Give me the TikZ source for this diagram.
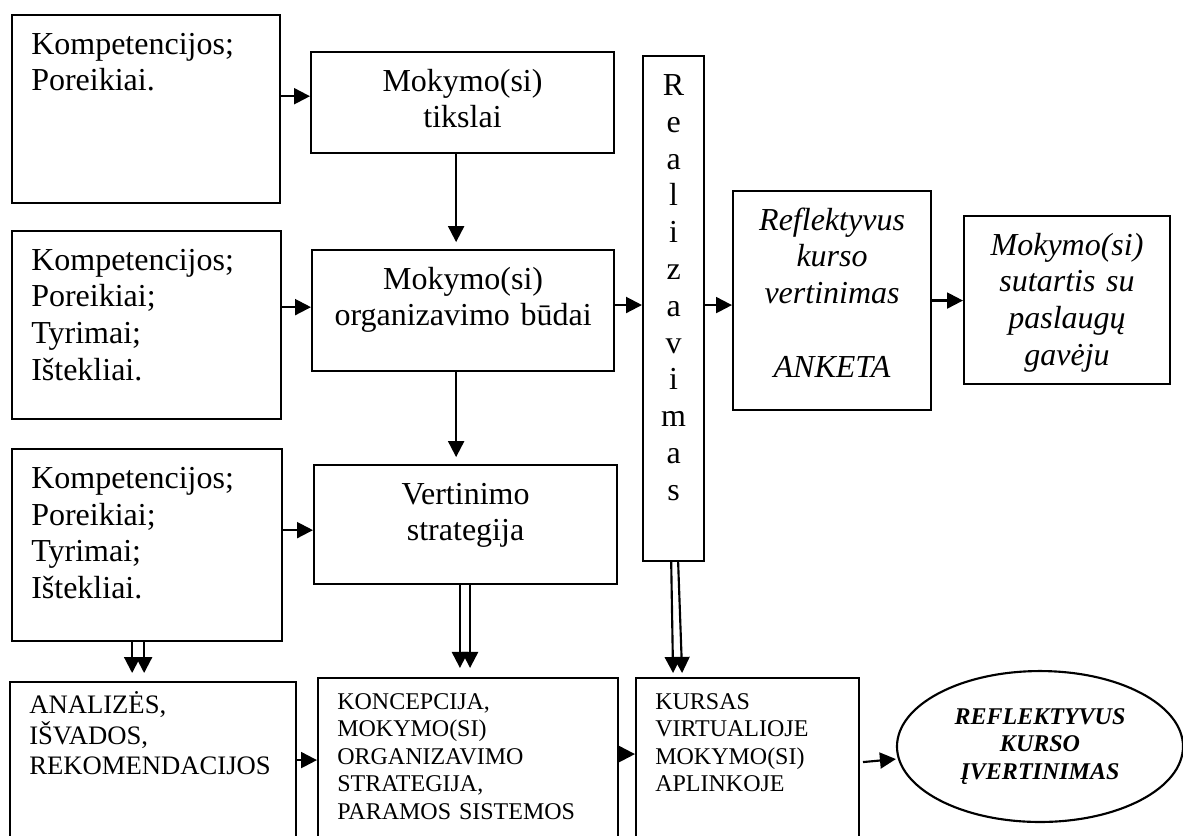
\documentclass[tikz,border=0pt]{standalone}
\usepackage{fontspec}
\setmainfont{Liberation Serif}
\usetikzlibrary{positioning,shapes.geometric,arrows.meta}

\begin{document}
\begin{tikzpicture}[x=0.375pt,y=-0.375pt,>={Triangle[length=6pt,width=6pt]},line width=0.8pt,
	every node/.style={shape=rectangle,draw,inner xsep=7.2pt,inner ysep=0pt},
	box/.style={anchor=north west,text height=14.6pt,font=\fontsize{12}{13.8}\selectfont},
	smallbox/.style={anchor=north west,text height=11.8pt,align=left,font=\fontsize{10}{11.5}\selectfont},
	tinybox/.style={anchor=north west,text height=11.6pt,align=left,font=\fontsize{9}{10.35}\selectfont},]
	\useasboundingbox (0,0) rectangle (1183,835);
	% inputs on the left
	\node (need1) [box,align=left,text width=86.1pt,text depth=55.9pt] at (11,14) {Kompetencijos;\\Poreikiai.};
	\node (need2) [box,align=left,text width=86.5pt,text depth=55.9pt,below=9.75pt of need1.south west,anchor=north west] {Kompetencijos;\\Poreikiai;\\Tyrimai;\\Ištekliai.};
	\node (need3) [box,align=left,text width=86.85pt,text depth=57.4pt,below=10.5pt of need2.south west,anchor=north west] {Kompetencijos;\\Poreikiai;\\Tyrimai;\\Ištekliai.};
	% design steps
	\node (tiksl) [box,align=center,text width=99.2pt,text depth=23.3pt] at (310,51) {Mokymo(si)\\tikslai};
	\node (budai) [box,align=center,text width=98.85pt,text depth=30.8pt] at (311,249) {Mokymo(si)\\organizavimo būdai};
	\node (vert) [box,align=center,text width=99.2pt,text depth=30pt] at (313,464) {Vertinimo\\strategija};
	\node (real) [box,align=center,inner xsep=0pt,text width=22.9pt,text height=14.8pt,text depth=174.6pt] at (642,55) {R\\e\\a\\l\\i\\z\\a\\v\\i\\m\\a\\s};
	\node (refl) [box,align=center,text width=59.85pt,text depth=67.5pt,font=\fontsize{12}{13.8}\selectfont\itshape] at (732,190) {Reflektyvus\\kurso\\vertinimas\\[13.8pt]ANKETA};
	\node (sutart) [box,align=center,text width=62.85pt,text depth=48.4pt,font=\fontsize{12}{13.8}\selectfont\itshape] at (963,215) {Mokymo(si)\\sutartis su\\paslaugų\\gavėju};
	% bottom row
	\node (concl) [smallbox,text width=92.85pt,text depth=55.3pt] at (9,681) {ANALIZĖS,\\IŠVADOS,\\REKOMENDACIJOS};
	\node (koncep) [tinybox,text width=98.1pt,text depth=57pt] at (317,677) {KONCEPCIJA,\\MOKYMO(SI)\\ORGANIZAVIMO\\STRATEGIJA,\\PARAMOS SISTEMOS};
	\node (kursas) [tinybox,text width=69.2pt,text depth=57pt] at (635,677) {KURSAS\\VIRTUALIOJE\\MOKYMO(SI)\\APLINKOJE};
	\node (ivert) [shape=ellipse,inner sep=0pt,minimum width=107.25pt,minimum height=56.6pt,align=center,font=\fontsize{9}{10.35}\selectfont\bfseries\itshape] at (1040,746.5) {REFLEKTYVUS\\KURSO\\ĮVERTINIMAS};

	% connections
	\draw[->] ([yshift=2.4pt]need1.east |- tiksl.west) to ([yshift=2.4pt]tiksl.west);
	\draw[->] ([yshift=1.3pt]need2.east |- budai.west) to ([yshift=1.3pt]budai.west);
	\draw[->] ([yshift=-2.1pt]need3.east |- vert.west) to ([yshift=-2.1pt]vert.west);
	\draw[->] ([xshift=-2.4pt]tiksl.south) to ([xshift=-2.4pt,yshift=2.6pt]tiksl.south |- budai.north);
	\draw[->] ([xshift=-2.6pt]budai.south) to ([xshift=-2.6pt,yshift=2.6pt]budai.south |- vert.north);
	\draw[->] ([yshift=2.1pt]budai.east) to ([yshift=2.1pt]budai.east -| real.west);
	\draw[->] ([yshift=-1.7pt]real.east |- refl.west) to ([yshift=-1.7pt]refl.west);
	\draw[->] (refl.east) to (refl.east -| sutart.west);
	% double arrows down to the bottom row
	\draw[->] ([xshift=-5.6pt]need3.south) to ([xshift=-5.6pt,yshift=3pt]need3.south |- concl.north);
	\draw[->] ([xshift=-1.1pt]need3.south) to ([xshift=-1.1pt,yshift=3pt]need3.south |- concl.north);
	\draw[->] ([xshift=-2.1pt]vert.south) to ([xshift=-2.1pt,yshift=3.4pt]vert.south |- koncep.north);
	\draw[->] ([xshift=1.7pt]vert.south) to ([xshift=1.7pt,yshift=3.4pt]vert.south |- koncep.north);
	\draw[->] ([xshift=-0.9pt]real.south) to ([xshift=-0.2pt,yshift=1.5pt]real.south |- kursas.north);
	\draw[->] ([xshift=1.7pt]real.south) to ([xshift=3.2pt,yshift=1.5pt]real.south |- kursas.north);
	\draw[->] ([yshift=4.3pt]concl.east) to ([yshift=4.3pt]concl.east -| koncep.west);
	\draw[->] ([yshift=5.8pt]koncep.east) to ([yshift=5.8pt]koncep.east -| kursas.west);
	\draw[->] ([xshift=1.1pt,yshift=2.8pt]kursas.east) to ([yshift=-4.7pt]ivert.west);
\end{tikzpicture}
\end{document}
